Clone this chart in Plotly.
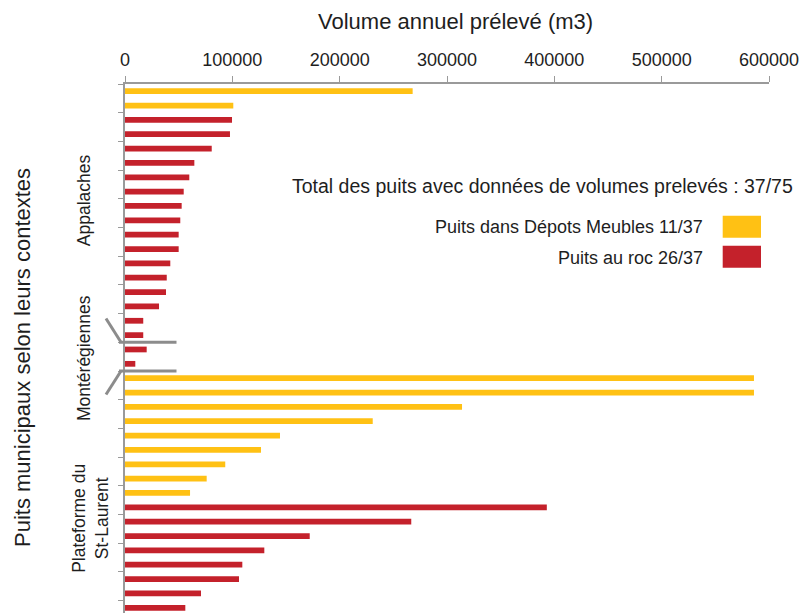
import plotly.graph_objects as go

# ---- data ----
puits = [f"P{i:02d}" for i in range(1, 38)]
contexte = (["Appalaches"] * 18 + ["Montérégiennes"] * 2 +
            ["Plateforme du St-Laurent"] * 17)
type_puits = (["DM", "DM"] + ["R"] * 16 +          # Appalaches
              ["R", "R"] +                         # Montérégiennes
              ["DM"] * 9 + ["R"] * 8)              # Plateforme du St-Laurent
volume = [268000, 100900, 99700, 97800, 80800, 64600, 59900, 54700, 52800,
          51500, 50000, 50000, 42200, 38900, 38200, 31700, 17000, 17000,
          20200, 9600,
          586000, 586000, 314000, 230800, 144400, 126700, 93400, 76100, 60600,
          393000, 266700, 172100, 129800, 109300, 106200, 70800, 56200]

noms = {"DM": "Puits dans Dépots Meubles 11/37", "R": "Puits au roc 26/37"}
couleurs = {"DM": "#FFC114", "R": "#C4212B"}
x_ticks = [0, 100000, 200000, 300000, 400000, 500000, 600000]

FONT = "Liberation Sans, Arial, sans-serif"
TXT = "#1e1e1e"
AX = "#9a9a9a"

W, H = 800, 613
ML, MR, MT, MB = 125, 31, 84, 0
PX_PER_CAT = 14.35
plot_h = H - MT - MB
y_bottom = -0.5 + plot_h / PX_PER_CAT

fig = go.Figure()
for t in ["DM", "R"]:
    ys = [p for p, tp in zip(puits, type_puits) if tp == t]
    xs = [v for v, tp in zip(volume, type_puits) if tp == t]
    fig.add_trace(go.Bar(
        x=xs, y=ys, orientation="h", name=noms[t],
        marker=dict(color=couleurs[t], line=dict(width=0)),
        width=0.4, showlegend=False, hoverinfo="x+y"))

fig.update_layout(
    width=W, height=H, barmode="overlay",
    margin=dict(l=ML, r=MR, t=MT, b=MB, pad=0),
    paper_bgcolor="white", plot_bgcolor="white",
    font=dict(family=FONT, color=TXT),
    xaxis=dict(side="top", range=[0, 600000], tickvals=x_ticks,
               ticktext=[str(v) for v in x_ticks],
               showgrid=False, zeroline=False, showline=True,
               linecolor=AX, linewidth=1.5, ticks="outside", ticklen=6,
               tickcolor=AX, tickwidth=1.2, ticklabelstandoff=3,
               tickfont=dict(size=18, color=TXT, family=FONT)),
    yaxis=dict(type="category", categoryorder="array", categoryarray=puits,
               range=[y_bottom, -0.5], showticklabels=False,
               showgrid=False, zeroline=False, showline=True,
               linecolor=AX, linewidth=1.5, ticks="outside", ticklen=5,
               tickcolor=AX, tickwidth=1.2, tickson="boundaries"),
)

def px_to_paper_x(px):
    return (px - ML) / (W - ML - MR)

def px_to_paper_y(py):
    return (H - MB - py) / plot_h

# titles
fig.add_annotation(text="Volume annuel prélevé (m3)", xref="paper", yref="paper",
                   x=px_to_paper_x(455), y=px_to_paper_y(22), showarrow=False,
                   xanchor="center", yanchor="middle", font=dict(size=22))
fig.add_annotation(text="Puits municipaux selon leurs contextes", xref="paper",
                   yref="paper", x=px_to_paper_x(22), y=px_to_paper_y(358),
                   textangle=-90, showarrow=False, xanchor="center",
                   yanchor="middle", font=dict(size=22))

# group labels
groupes = [("Appalaches", 7.6, 84), ("Montérégiennes", 18.6, 84),
           ("Plateforme du<br>St-Laurent", 29.8, 91)]
for txt, yi, xpx in groupes:
    fig.add_annotation(text=txt, xref="paper", yref="y", x=px_to_paper_x(xpx),
                       y=yi, textangle=-90, showarrow=False, xanchor="center",
                       yanchor="middle", font=dict(size=17.5))

# break marks between contexts
for yb, ydiag in [(17.5, 15.84), (19.5, 21.14)]:
    fig.add_shape(type="line", xref="paper", yref="y",
                  x0=px_to_paper_x(106), y0=ydiag, x1=px_to_paper_x(121), y1=yb,
                  line=dict(color="#8c8c8c", width=3))
    fig.add_shape(type="line", xref="paper", yref="y",
                  x0=px_to_paper_x(119), y0=yb, x1=px_to_paper_x(176.5), y1=yb,
                  line=dict(color="#8c8c8c", width=3))

# custom legend
fig.add_annotation(text="Total des puits avec données de volumes prelevés : 37/75",
                   xref="paper", yref="paper", x=px_to_paper_x(795),
                   y=px_to_paper_y(186), xanchor="right", yanchor="middle",
                   showarrow=False, font=dict(size=19.5))
for t, ytxt, (ya, yb) in [("DM", 227, (215.7, 237.7)), ("R", 258, (245.7, 267.7))]:
    fig.add_annotation(text=noms[t], xref="paper", yref="paper",
                       x=px_to_paper_x(705), y=px_to_paper_y(ytxt),
                       xanchor="right", yanchor="middle", showarrow=False,
                       font=dict(size=18))
    fig.add_shape(type="rect", xref="paper", yref="paper",
                  x0=px_to_paper_x(722.7), x1=px_to_paper_x(761),
                  y0=px_to_paper_y(yb), y1=px_to_paper_y(ya),
                  fillcolor=couleurs[t], line=dict(width=0))

fig.write_html("out.html",
               config={"displayModeBar": False},
               post_script="document.body.style.margin='0';"
                           "document.body.style.overflow='hidden';")
